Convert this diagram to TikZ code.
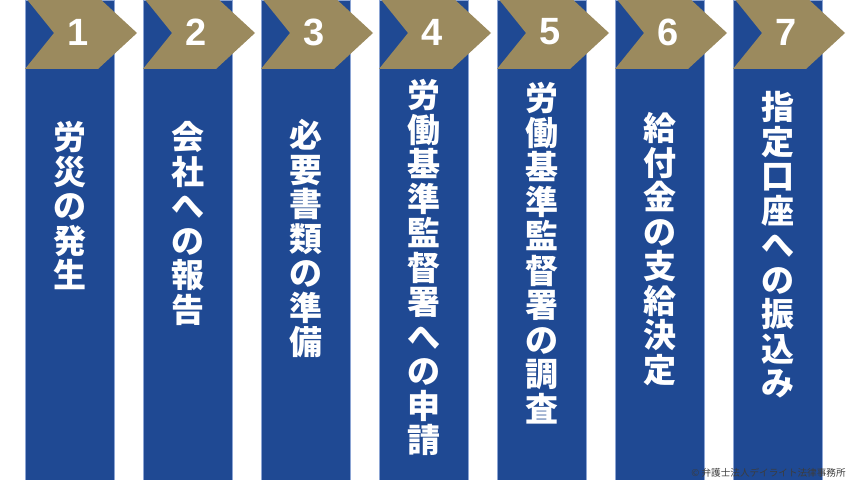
\documentclass[tikz,border=0pt]{standalone}
\usepackage{fontspec}
\newfontfamily\jpfont{Noto Sans CJK JP}
\newfontfamily\numfont{Liberation Sans}
\definecolor{stepBlue}{RGB}{31,73,147}
\definecolor{stepEdge}{RGB}{140,165,212}
\definecolor{stepGold}{RGB}{155,138,94}
\definecolor{creditGray}{RGB}{60,60,60}

\begin{document}
\begin{tikzpicture}
      [ x=0.5pt, y=-0.5pt
      , column/.style={fill=stepBlue, draw=stepEdge, line width=0.3pt, inner sep=0,
                       minimum width=44.5pt, minimum height=240pt}
      , chev/.style={fill=stepGold}
      , num/.style={text=white, font=\numfont\bfseries\fontsize{19}{19}\selectfont, inner sep=0}
      , vtext/.style={text=white, font=\jpfont\bfseries\fontsize{16.5}{17.25}\selectfont,
                      align=center, anchor=north, inner sep=0}
      , credit/.style={text=creditGray, font=\jpfont\fontsize{4.8}{5}\selectfont, inner sep=0}
      ]
    \useasboundingbox (0,0) rectangle (850,480);
    \clip (0,0) rectangle (850,480);

    \node[column] (c1) at (69.5,240) {};
    \node[column] (c2) at (187.5,240) {};
    \node[column] (c3) at (305.5,240) {};
    \node[column] (c4) at (423.5,240) {};
    \node[column] (c5) at (541.5,240) {};
    \node[column] (c6) at (659.5,240) {};
    \node[column] (c7) at (777.5,240) {};

    \fill[chev] (25,-3) -- ++(73,0) -- ++(39,36) -- ++(-39,36) -- ++(-73,0) -- ++(29,-36) -- cycle;
    \fill[chev] (143,-3) -- ++(73,0) -- ++(39,36) -- ++(-39,36) -- ++(-73,0) -- ++(29,-36) -- cycle;
    \fill[chev] (261,-3) -- ++(73,0) -- ++(39,36) -- ++(-39,36) -- ++(-73,0) -- ++(29,-36) -- cycle;
    \fill[chev] (379,-3) -- ++(73,0) -- ++(39,36) -- ++(-39,36) -- ++(-73,0) -- ++(29,-36) -- cycle;
    \fill[chev] (497,-3) -- ++(73,0) -- ++(39,36) -- ++(-39,36) -- ++(-73,0) -- ++(29,-36) -- cycle;
    \fill[chev] (615,-3) -- ++(73,0) -- ++(39,36) -- ++(-39,36) -- ++(-73,0) -- ++(29,-36) -- cycle;
    \fill[chev] (733,-3) -- ++(73,0) -- ++(39,36) -- ++(-39,36) -- ++(-73,0) -- ++(29,-36) -- cycle;

    \node[num] (n1) at (78,32) {1};
    \node[num] (n2) at (196,32) {2};
    \node[num] (n3) at (314,32) {3};
    \node[num] (n4) at (432,32) {4};
    \node[num] (n5) at (550,32) {5};
    \node[num] (n6) at (668,32) {6};
    \node[num] (n7) at (786,32) {7};

    \node[vtext] (t1) at (c1.center |- 0,121) {労\\災\\の\\発\\生};
    \node[vtext] (t2) at (c2.center |- 0,121) {会\\社\\へ\\の\\報\\告};
    \node[vtext] (t3) at (c3.center |- 0,119) {必\\要\\書\\類\\の\\準\\備};
    \node[vtext] (t4) at (c4.center |- 0,79) {労\\働\\基\\準\\監\\督\\署\\へ\\の\\申\\請};
    \node[vtext] (t5) at (c5.center |- 0,82) {労\\働\\基\\準\\監\\督\\署\\の\\調\\査};
    \node[vtext] (t6) at (c6.center |- 0,112) {給\\付\\金\\の\\支\\給\\決\\定};
    \node[vtext] (t7) at (c7.center |- 0,91) {指\\定\\口\\座\\へ\\の\\振\\込\\み};

    \node[credit, anchor=east] (cr) at (846,473) {© 弁護士法人デイライト法律事務所};
\end{tikzpicture}
\end{document}
